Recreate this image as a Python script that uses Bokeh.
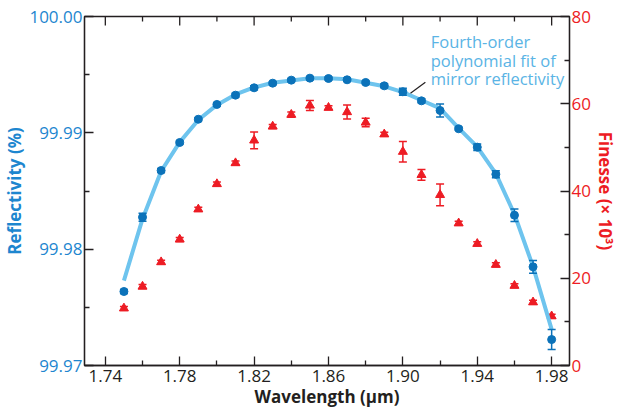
import math
from bokeh.plotting import figure
from bokeh.models import (Range1d, LinearAxis, FixedTicker, PrintfTickFormatter,
                          ColumnDataSource, Label)
from bokeh.embed import file_html
from bokeh.resources import INLINE

# ---- data ----
wavelength = [1.75, 1.76, 1.77, 1.78, 1.79, 1.80, 1.81, 1.82, 1.83, 1.84, 1.85, 1.86,
              1.87, 1.88, 1.89, 1.90, 1.91, 1.92, 1.93, 1.94, 1.95, 1.96, 1.97, 1.98]
reflectivity = [99.97636, 99.98275, 99.98676, 99.98917, 99.99117, 99.99244, 99.99324,
                99.99387, 99.99427, 99.99453, 99.99470, 99.99467, 99.99456, 99.99433,
                99.99404, 99.99353, 99.99275, 99.99192, 99.99035, 99.98877, 99.98644,
                99.98292, 99.97848, 99.97223]
reflectivity_err = [0.00017, 0.00034, 0.00017, 0.00013, 0.00013, 0.00013, 0.00017,
                    0.00017, 0.00013, 0.00013, 0.00013, 0.00013, 0.00013, 0.00013,
                    0.00017, 0.00030, 0.00017, 0.00056, 0.00013, 0.00028, 0.00030,
                    0.00054, 0.00054, 0.00086]
finesse = [13.1, 18.1, 23.7, 28.9, 35.8, 41.6, 46.4, 51.6, 54.8, 57.5, 59.6, 59.1,
           58.1, 55.7, 53.0, 49.0, 43.7, 39.1, 32.6, 27.9, 23.1, 18.3, 14.5, 11.3]
finesse_err = [0.45, 0.45, 0.45, 0.45, 0.45, 0.45, 0.45, 1.9, 0.45, 0.6, 1.15, 0.45,
               1.6, 1.0, 0.45, 2.35, 1.25, 2.5, 0.45, 0.45, 0.45, 0.45, 0.45, 0.45]
fit_reflectivity = [99.9773, 99.9826, 99.9867, 99.9892, 99.9911, 99.9924, 99.9933,
                    99.9939, 99.9943, 99.9945, 99.9947, 99.9947, 99.9946, 99.9943,
                    99.9940, 99.9935, 99.9928, 99.9921, 99.9904, 99.9888, 99.9865,
                    99.9830, 99.9785, 99.9731]
x_ticks = [1.74, 1.78, 1.82, 1.86, 1.90, 1.94, 1.98]
x_minor = [1.76, 1.80, 1.84, 1.88, 1.92, 1.96]
left_ticks = [99.97, 99.98, 99.99, 100.00]
left_minor = [99.975, 99.985, 99.995]
right_ticks = [0, 20, 40, 60, 80]
right_minor = [10, 30, 50, 70]

BLUE = "#0B72B9"
BLUE_TXT = "#1D86CF"
FIT = "#6EC4EE"
RED = "#ED1C24"
INK = "#231F20"
FONT = "Open Sans"

src = ColumnDataSource(dict(
    x=wavelength, r=reflectivity,
    r_lo=[a - b for a, b in zip(reflectivity, reflectivity_err)],
    r_hi=[a + b for a, b in zip(reflectivity, reflectivity_err)],
    f=finesse,
    f_lo=[a - b for a, b in zip(finesse, finesse_err)],
    f_hi=[a + b for a, b in zip(finesse, finesse_err)],
    fit=fit_reflectivity,
))

X_RANGE = (1.7288, 1.9896)
Y_RANGE = (99.97, 100.00)

p = figure(width=619, height=410, output_backend="svg", toolbar_location=None,
           x_range=Range1d(*X_RANGE), y_range=Range1d(*Y_RANGE),
           x_axis_location=None, y_axis_location=None,
           min_border_left=82, min_border_right=49, min_border_top=16,
           min_border_bottom=45)
p.extra_y_ranges = {"fin": Range1d(0, 80)}
p.grid.visible = False
p.outline_line_color = INK
p.outline_line_width = 1.3
p.background_fill_color = "white"
p.border_fill_color = "white"


def style(ax, ticks, minor):
    ax.ticker = FixedTicker(ticks=ticks, minor_ticks=minor)
    ax.axis_line_color = INK
    ax.axis_line_width = 1.3
    ax.major_tick_line_color = INK
    ax.minor_tick_line_color = INK
    ax.major_tick_line_width = 1.3
    ax.minor_tick_line_width = 1.3
    ax.major_tick_in = 9
    ax.major_tick_out = 0
    ax.minor_tick_in = 5
    ax.minor_tick_out = 0
    ax.major_label_text_font = FONT
    ax.major_label_text_font_size = "17px"
    ax.axis_label_text_font = FONT
    ax.axis_label_text_font_style = "bold"
    ax.axis_label_text_font_size = "17px"
    ax.axis_label_text_line_height = 0.85
    ax.major_label_text_line_height = 0.9


xb = LinearAxis(axis_label="Wavelength (µm)")
style(xb, x_ticks, x_minor)
xb.formatter = PrintfTickFormatter(format="%.2f")
xb.major_label_text_color = INK
xb.axis_label_text_color = INK
xb.major_label_standoff = 4
xb.axis_label_standoff = 0
p.add_layout(xb, "below")

yl = LinearAxis(axis_label="Reflectivity (%)")
style(yl, left_ticks, left_minor)
yl.formatter = PrintfTickFormatter(format="%.2f")
yl.major_label_text_color = BLUE_TXT
yl.axis_label_text_color = BLUE_TXT
yl.major_label_standoff = 2
yl.axis_label_standoff = 0
p.add_layout(yl, "left")

yr = LinearAxis(y_range_name="fin", axis_label="Finesse (× 10³)")
style(yr, right_ticks, right_minor)
yr.major_label_text_color = RED
yr.axis_label_text_color = RED
yr.major_label_standoff = 2
yr.axis_label_standoff = 0
p.add_layout(yr, "right")

# ticks along the top edge of the frame (pointing inward)
p.ray(x=x_ticks, y=[Y_RANGE[1]] * len(x_ticks), length=9, length_units="screen",
      angle=-math.pi / 2, line_color=INK, line_width=1.3)
p.ray(x=x_minor, y=[Y_RANGE[1]] * len(x_minor), length=5, length_units="screen",
      angle=-math.pi / 2, line_color=INK, line_width=1.3)

# finesse (red triangles)
p.segment(x0="x", x1="x", y0="f_lo", y1="f_hi", source=src, y_range_name="fin",
          line_color=RED, line_width=1.5)
p.scatter(x="x", y="f_lo", source=src, y_range_name="fin", marker="dash", size=8,
          line_color=RED, line_width=1.5)
p.scatter(x="x", y="f_hi", source=src, y_range_name="fin", marker="dash", size=8,
          line_color=RED, line_width=1.5)
p.scatter(x="x", y="f", source=src, y_range_name="fin", marker="triangle", size=9,
          fill_color=RED, line_color=RED)

# polynomial fit
p.line(x="x", y="fit", source=src, line_color=FIT, line_width=4)

# reflectivity (blue circles)
p.segment(x0="x", x1="x", y0="r_lo", y1="r_hi", source=src,
          line_color=BLUE, line_width=1.5)
p.scatter(x="x", y="r_lo", source=src, marker="dash", size=8,
          line_color=BLUE, line_width=1.5)
p.scatter(x="x", y="r_hi", source=src, marker="dash", size=8,
          line_color=BLUE, line_width=1.5)
p.scatter(x="x", y="r", source=src, marker="circle", size=8,
          fill_color=BLUE, line_color=BLUE)

# annotation
for txt, yy in [("Fourth-order", 99.99786), ("polynomial fit of", 99.99622),
                ("mirror reflectivity", 99.99467)]:
    p.add_layout(Label(x=1.9150, y=yy, text=txt, text_color="#5AB4E5",
                       text_font=FONT, text_font_size="16.5px",
                       text_baseline="alphabetic", text_align="left"))
p.segment(x0=[1.9121], y0=[99.99435], x1=[1.9041], y1=[99.99341],
          line_color=INK, line_width=1.2)

open("out.html", "w").write(file_html(p, INLINE))
